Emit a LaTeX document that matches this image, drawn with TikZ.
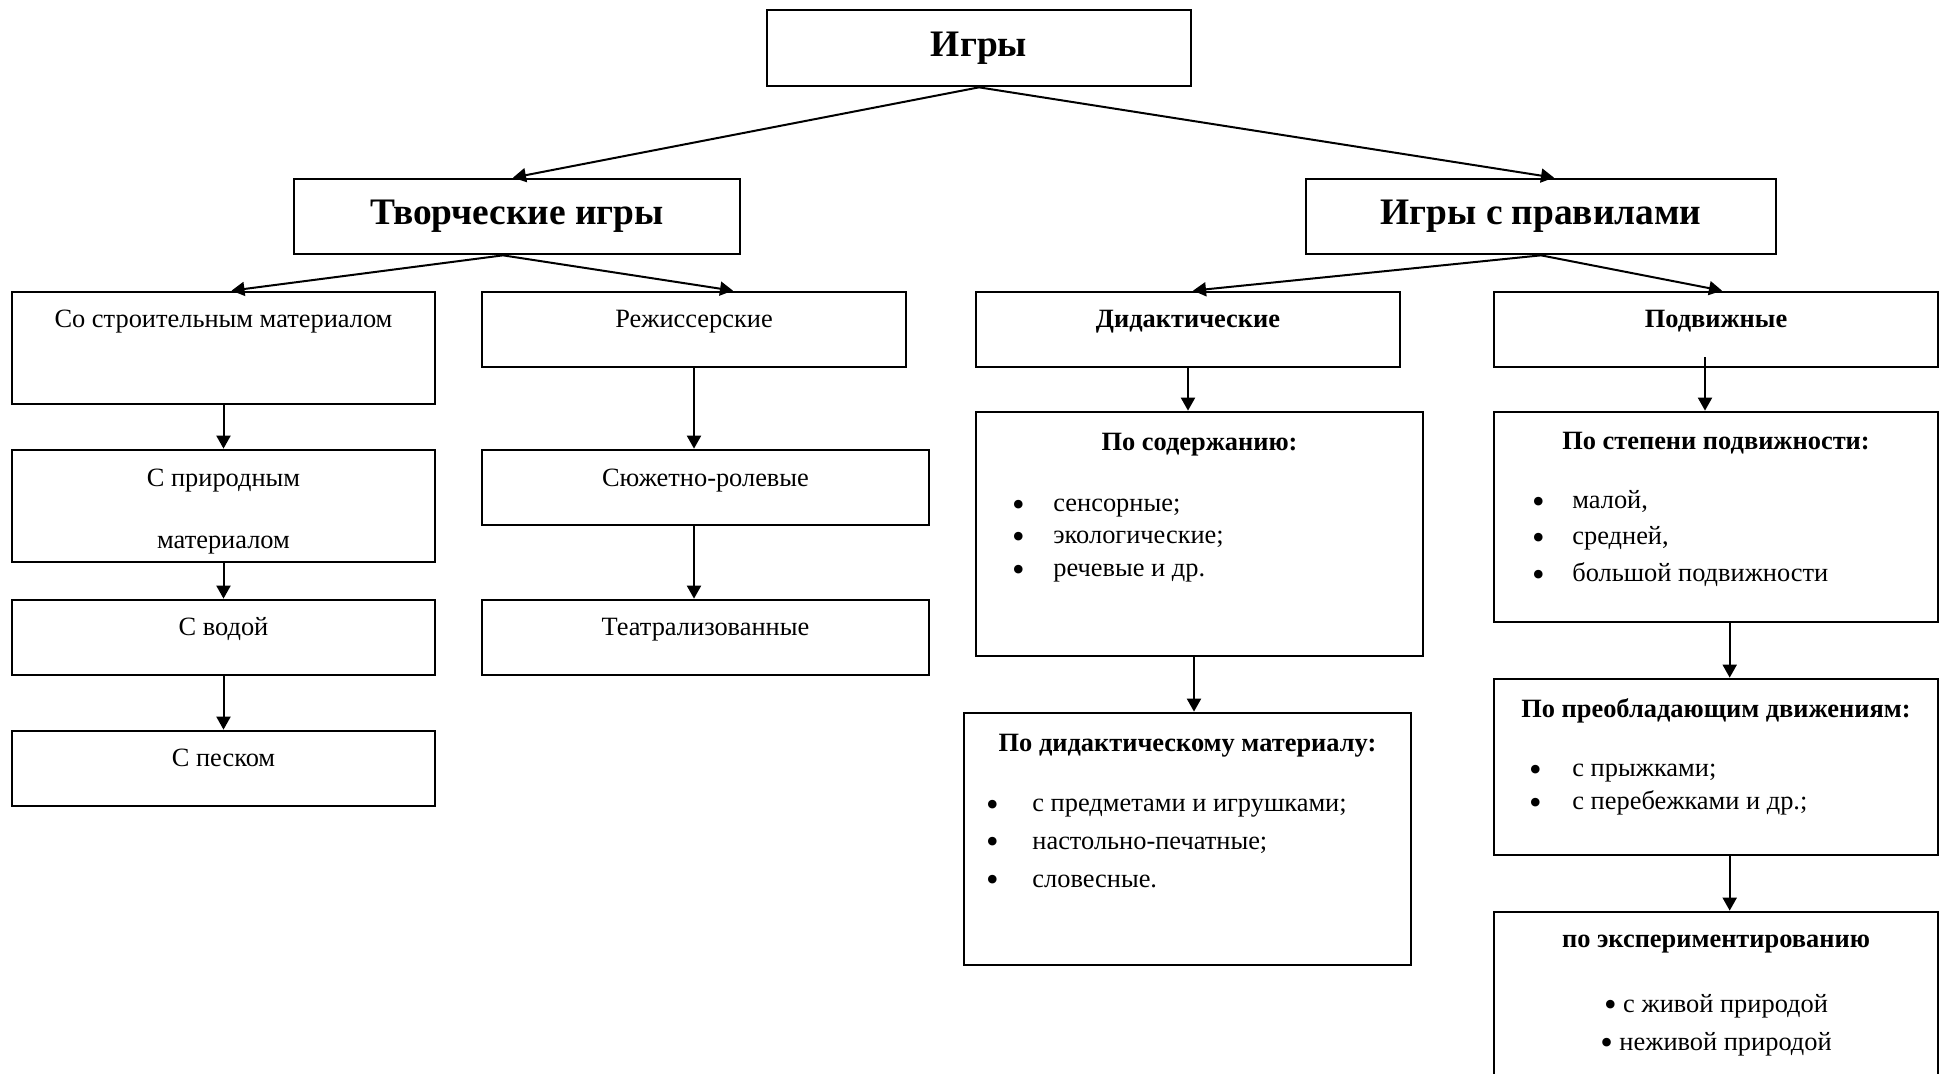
\documentclass[tikz,border=0pt]{standalone}
\usepackage{fontspec}
\setmainfont{Liberation Serif}
\usetikzlibrary{arrows.meta,fit}

\newcommand{\bigtxt}{\fontsize{18.7}{23}\selectfont\bfseries}
\newcommand{\smtxt}{\fontsize{13.2}{16}\selectfont}
\newcommand{\bull}{\raisebox{-2.4pt}{\scalebox{1.36}{•}}}
\newcommand{\bitem}[2]{\makebox[#1][l]{\bull}#2}

\tikzset{
  box/.style={draw, line width=1.35pt, inner sep=0pt},
  big/.style={font=\bigtxt, anchor=base, inner sep=0pt},
  txt/.style={font=\smtxt, anchor=base, inner sep=0pt},
  hd/.style={font=\smtxt\bfseries, anchor=base, inner sep=0pt},
  item/.style={font=\smtxt, anchor=base west, inner sep=0pt},
  arr/.style={-{Triangle[length=6.5pt,width=7pt]}, line width=1pt},
}

\begin{document}
\begin{tikzpicture}[x=0.5pt, y=-0.5pt]
            \useasboundingbox (0,0) rectangle (1940,1074);
            \clip (0,0) rectangle (1940,1074);
            % Rahmen
            \node [box, fit={(767,10) (1191,86)}] (igry) {};
            \node [box, fit={(294,179) (740,254)}] (tvor) {};
            \node [box, fit={(1306,179) (1776,254)}] (prav) {};
            \node [box, fit={(12,292) (435,404)}] (stroi) {};
            \node [box, fit={(482,292) (906,367)}] (rezh) {};
            \node [box, fit={(976,292) (1400,367)}] (did) {};
            \node [box, fit={(1494,292) (1938,367)}] (podv) {};
            \node [box, fit={(12,450) (435,562)}] (prir) {};
            \node [box, fit={(482,450) (929,525)}] (syuzh) {};
            \node [box, fit={(12,600) (435,675)}] (voda) {};
            \node [box, fit={(482,600) (929,675)}] (teatr) {};
            \node [box, fit={(12,731) (435,806)}] (pesok) {};
            \node [box, fit={(976,412) (1423,656)}] (sod) {};
            \node [box, fit={(1494,412) (1938,622)}] (stepen) {};
            \node [box, fit={(964,713) (1411,965)}] (didmat) {};
            \node [box, fit={(1494,679) (1938,855)}] (preob) {};
            \node [box, fit={(1494,912) (1938,1100)}] (eksp) {};
            % Texte
            \node [big] (t-igry) at (979,57) {Игры};
            \node [big] (t-tvor) at (517,225) {Творческие игры};
            \node [big] (t-prav) at (1541,225) {Игры с правилами};
            \node [txt] (t-stroi) at (223.5,328) {Со строительным материалом};
            \node [txt] (t-rezh) at (694,328) {Режиссерские};
            \node [hd] (t-did) at (1188,328) {Дидактические};
            \node [hd] (t-podv) at (1716,328) {Подвижные};
            \node [txt] (t-prir1) at (223.5,487) {С природным};
            \node [txt] (t-prir2) at (223.5,549) {материалом};
            \node [txt] (t-syuzh) at (705.5,487) {Сюжетно-ролевые};
            \node [txt] (t-voda) at (223.5,636) {С водой};
            \node [txt] (t-teatr) at (705.5,636) {Театрализованные};
            \node [txt] (t-pesok) at (223.5,767) {С песком};
            % Didaktische
            \node [hd] (t-sod) at (1199.5,451) {По содержанию:};
            \node [item] (i-sod1) at (1011.7,512) {\bitem{20.65pt}{сенсорные;}};
            \node [item] (i-sod2) at (1011.7,544) {\bitem{20.65pt}{экологические;}};
            \node [item] (i-sod3) at (1011.7,577) {\bitem{20.65pt}{речевые и др.}};
            \node [hd] (t-didmat) at (1187.5,752) {По дидактическому материалу:};
            \node [item] (i-dm1) at (985.7,812) {\bitem{23.15pt}{с предметами и игрушками;}};
            \node [item] (i-dm2) at (985.7,849) {\bitem{23.15pt}{настольно-печатные;}};
            \node [item] (i-dm3) at (985.7,887) {\bitem{23.15pt}{словесные.}};
            % Bewegungsspiele
            \node [hd] (t-stepen) at (1716,450) {По степени подвижности:};
            \node [item] (i-st1) at (1531.7,509) {\bitem{20.15pt}{малой,}};
            \node [item] (i-st2) at (1531.7,545) {\bitem{20.15pt}{средней,}};
            \node [item] (i-st3) at (1531.7,582) {\bitem{20.15pt}{большой подвижности}};
            \node [hd] (t-preob) at (1716,718) {По преобладающим движениям:};
            \node [item] (i-pr1) at (1528.7,777) {\bitem{21.65pt}{с прыжками;}};
            \node [item] (i-pr2) at (1528.7,810) {\bitem{21.65pt}{с перебежками и др.;}};
            \node [hd] (t-eksp) at (1716,948) {по экспериментированию};
            \node [txt] (i-eksp1) at (1716,1012) {\bull\ с живой природой};
            \node [txt] (i-eksp2) at (1716,1050) {\bull\ неживой природой};
            % Pfeile
            \coordinate (c-tvor) at ([xshift=-7pt]tvor.south);
            \coordinate (c-rezh) at ([xshift=19.5pt]rezh.north);
            \coordinate (c-syuzh) at (rezh.south |- syuzh.south);
            \coordinate (c-sod) at ([xshift=-2.75pt]sod.south);
            \coordinate (c-podv) at ([xshift=-5.5pt,yshift=5.5pt]podv.south);
            \coordinate (c-stepen) at ([xshift=6.85pt]stepen.south);
            \coordinate (c-preob) at ([xshift=6.85pt]preob.south);
            \draw [arr] (igry.south) -- ([xshift=-2pt]tvor.north);
            \draw [arr] (igry.south) -- ([xshift=6.5pt]prav.north);
            \draw [arr] (c-tvor) -- ([xshift=4pt]stroi.north);
            \draw [arr] (c-tvor) -- (c-rezh);
            \draw [arr] (prav.south) -- ([xshift=2.5pt]did.north);
            \draw [arr] (prav.south) -- ([xshift=3pt]podv.north);
            \draw [arr] (stroi.south) -- (prir.north);
            \draw [arr] (prir.south) -- (voda.north);
            \draw [arr] (voda.south) -- (pesok.north);
            \draw [arr] (rezh.south) -- (rezh.south |- syuzh.north);
            \draw [arr] (c-syuzh) -- (c-syuzh |- teatr.north);
            \draw [arr] (did.south) -- (did.south |- sod.north);
            \draw [arr] (c-sod) -- (c-sod |- didmat.north);
            \draw [arr] (c-podv) -- (c-podv |- stepen.north);
            \draw [arr] (c-stepen) -- (c-stepen |- preob.north);
            \draw [arr] (c-preob) -- (c-preob |- eksp.north);
        \end{tikzpicture}
\end{document}
